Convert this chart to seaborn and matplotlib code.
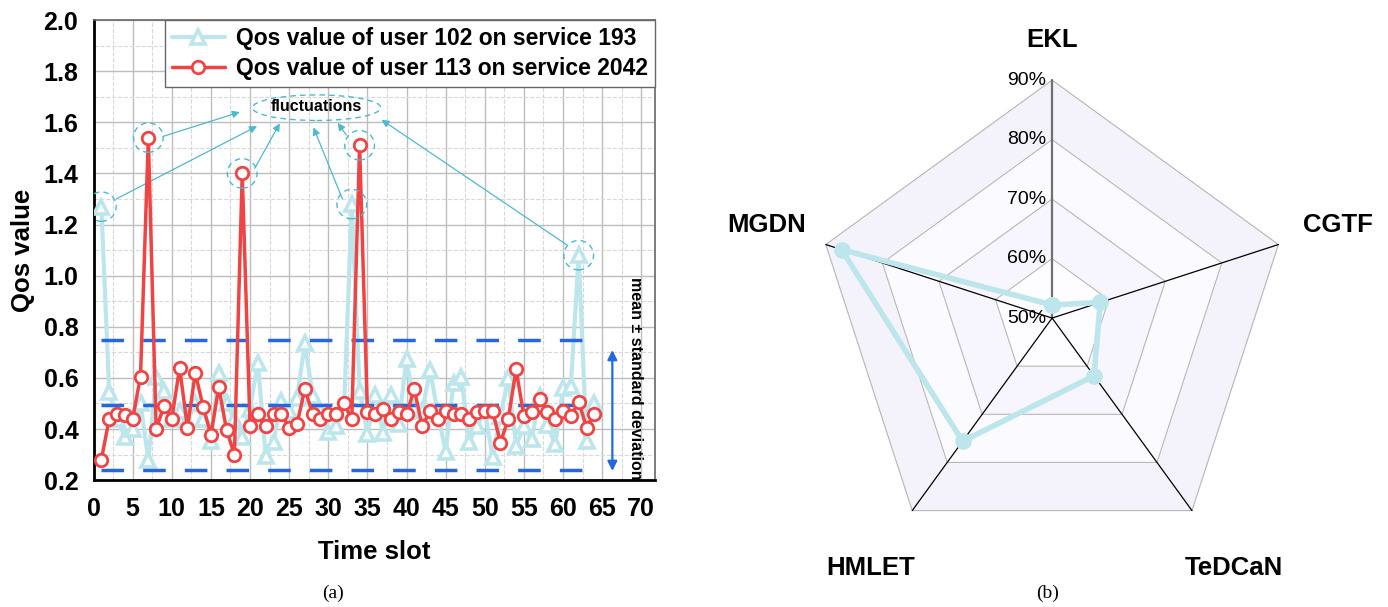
import numpy as np
import pandas as pd
import matplotlib
matplotlib.use("Agg")
import matplotlib.pyplot as plt
from matplotlib.patches import Ellipse
import seaborn as sns

# --- dados do grafico (a): QoS por time slot ---
time_slot = list(range(1, 65))
qos_u102 = [1.27, 0.545, 0.44, 0.37, 0.40, 0.50, 0.28, 0.605, 0.55, 0.44,
            0.47, 0.43, 0.50, 0.44, 0.355, 0.62, 0.50, 0.44, 0.37, 0.48,
            0.66, 0.295, 0.35, 0.51, 0.47, 0.52, 0.735, 0.53, 0.47, 0.39,
            0.41, 0.47, 1.28, 0.55, 0.38, 0.535, 0.385, 0.535, 0.42, 0.675,
            0.48, 0.47, 0.63, 0.46, 0.31, 0.58, 0.605, 0.35, 0.41, 0.47,
            0.29, 0.45, 0.60, 0.335, 0.41, 0.36, 0.53, 0.415, 0.34, 0.56,
            0.57, 1.08, 0.355, 0.50]
qos_u113 = [0.28, 0.44, 0.457, 0.454, 0.44, 0.605, 1.54, 0.40, 0.49, 0.44,
            0.64, 0.405, 0.62, 0.487, 0.378, 0.563, 0.396, 0.30, 1.40, 0.41,
            0.46, 0.41, 0.46, 0.46, 0.405, 0.42, 0.555, 0.46, 0.44, 0.457,
            0.457, 0.50, 0.44, 1.51, 0.466, 0.457, 0.48, 0.44, 0.466, 0.46,
            0.555, 0.41, 0.47, 0.44, 0.47, 0.457, 0.457, 0.44, 0.466, 0.47,
            0.47, 0.347, 0.44, 0.633, 0.45, 0.466, 0.517, 0.466, 0.44, 0.47,
            0.45, 0.507, 0.405, 0.46]
band_levels = [0.24, 0.495, 0.75]   # media - dp, media, media + dp
fluct_u102 = [1, 33, 62]            # slots com pico (triangulos)
fluct_u113 = [7, 19, 34]            # slots com pico (circulos)

# --- dados do grafico (b): radar ---
methods = ["EKL", "CGTF", "TeDCaN", "HMLET", "MGDN"]
scores = [52.2, 58.5, 62.0, 75.6, 87.2]
rings = [60, 70, 80, 90]

cyan = "#bce6ec"
red = "#f04343"
blue = "#2467e0"
note = "#4db9d0"

sns.set_theme(style="whitegrid")
plt.rcParams["font.family"] = ["Liberation Sans", "DejaVu Sans"]
plt.rcParams["text.color"] = "black"
plt.rcParams["axes.labelcolor"] = "black"
plt.rcParams["xtick.color"] = "black"
plt.rcParams["ytick.color"] = "black"

fig = plt.figure(figsize=(13.88, 6.07), dpi=100)

# ================= (a) =================
ax = fig.add_axes([0.0674, 0.209, 0.4045, 0.758])
df = pd.DataFrame({"slot": time_slot, "u102": qos_u102, "u113": qos_u113})

sns.lineplot(data=df, x="slot", y="u102", ax=ax, color=cyan, lw=3,
             marker="^", markersize=10.5, markerfacecolor="white",
             markeredgecolor=cyan, markeredgewidth=2.6, zorder=3,
             label="Qos value of user 102 on service 193")
sns.lineplot(data=df, x="slot", y="u113", ax=ax, color=red, lw=2.5,
             marker="o", markersize=9, markerfacecolor="white",
             markeredgecolor=red, markeredgewidth=2, zorder=4,
             label="Qos value of user 113 on service 2042")

ax.hlines(band_levels, xmin=0.9, xmax=64.2, colors=blue, lw=2.5,
          linestyles=[(0, (6.5, 5.5))], zorder=3.5)

ax.annotate("", xy=(66.3, 0.225), xytext=(66.3, 0.72),
            arrowprops=dict(arrowstyle="<|-|>", color=blue, lw=1.6,
                            mutation_scale=14))
ax.text(69.2, 0.6, "mean \u00b1 standard deviation", rotation=270,
        ha="center", va="center", fontsize=11.5, fontweight="bold")

# elipses tracejadas nos picos
for s in fluct_u102:
    ax.add_patch(Ellipse((s, qos_u102[s - 1]), 3.8, 0.115, fill=False,
                         ec=note, lw=1, ls=(0, (4, 3)), zorder=5))
for s in fluct_u113:
    ax.add_patch(Ellipse((s, qos_u113[s - 1]), 3.8, 0.115, fill=False,
                         ec=note, lw=1, ls=(0, (4, 3)), zorder=5))

ax.add_patch(Ellipse((28.5, 1.657), 16.4, 0.1, fill=False, ec=note, lw=1,
                     ls=(0, (4, 3)), zorder=5))
ax.text(28.5, 1.66, "fluctuations", ha="center", va="center",
        fontsize=11.5, fontweight="bold")

# setas ate "fluctuations"
setas = [((2.9, 1.30), (20.9, 1.585)),
         ((8.9, 1.545), (18.7, 1.64)),
         ((20.6, 1.42), (23.8, 1.596)),
         ((31.8, 1.30), (28.1, 1.58)),
         ((32.3, 1.55), (31.2, 1.598)),
         ((60.5, 1.12), (36.8, 1.61))]
for ini, fim in setas:
    ax.annotate("", xy=fim, xytext=ini,
                arrowprops=dict(arrowstyle="-|>", color=note, lw=0.9,
                                mutation_scale=11, shrinkA=0, shrinkB=0))

ax.set_xlim(0, 71.75)
ax.set_ylim(0.2, 2.0)
ax.set_xticks(np.arange(0, 71, 5))
ax.set_yticks(np.arange(0.2, 2.01, 0.2))
ax.set_yticklabels([f"{v:.1f}" for v in np.arange(0.2, 2.01, 0.2)])
ax.set_xticks(np.arange(2.5, 71, 5), minor=True)
ax.set_yticks(np.arange(0.3, 2.0, 0.2), minor=True)
ax.grid(which="major", color="#bdbdbd", lw=1)
ax.grid(which="minor", color="#d8d8d8", lw=0.8, ls="--")
ax.tick_params(axis="both", which="both", length=0, labelsize=18)
ax.tick_params(axis="y", pad=11)
ax.tick_params(axis="x", pad=12)
for lab in ax.get_xticklabels() + ax.get_yticklabels():
    lab.set_fontweight("bold")
ax.set_xlabel("Time slot", fontsize=18.5, fontweight="bold", labelpad=14)
ax.set_ylabel("Qos value", fontsize=18.5, fontweight="bold", labelpad=6)
for lado in ["left", "bottom"]:
    ax.spines[lado].set_color("black")
    ax.spines[lado].set_linewidth(2)
for lado in ["top", "right"]:
    ax.spines[lado].set_color("#666666")
    ax.spines[lado].set_linewidth(1.2)

leg = ax.legend(loc="upper right", bbox_to_anchor=(1, 1), borderaxespad=0,
                fontsize=16.5, handlelength=2.3, handletextpad=0.5,
                frameon=True, fancybox=False, framealpha=1,
                borderpad=0.3, labelspacing=0.3)
leg.get_frame().set_edgecolor("#666666")
leg.get_frame().set_linewidth(1)
for t in leg.get_texts():
    t.set_fontweight("bold")
    t.set_color("black")

# ================= (b) =================
ax2 = fig.add_axes([0.5865, 0.084, 0.343, 0.784], projection="polar")
ax2.set_theta_offset(np.pi / 2)
ax2.set_theta_direction(-1)
ax2.set_ylim(50, 90)
ax2.grid(False)
ax2.spines["polar"].set_visible(False)
ax2.set_xticks([])
ax2.set_yticks([])
ax2.patch.set_alpha(0)

angles = np.linspace(0, 2 * np.pi, len(methods), endpoint=False)
closed = np.append(angles, angles[0])

band_colors = ["#f4f2fb", "#fbfaff", "#f7f5fd", "#fdfcff"]
for r, c in zip(rings[::-1], band_colors):
    ax2.fill(closed, [r] * len(closed), color=c, zorder=0, clip_on=False)
for r in rings:
    ax2.plot(closed, [r] * len(closed), color="#b8b8b8", lw=0.8,
             zorder=1, clip_on=False)
for i, a in enumerate(angles):
    if i == 0:
        ax2.plot([a, a], [50, 90], color="#707070", lw=1.6, zorder=2,
                 clip_on=False)
    else:
        ax2.plot([a, a], [50, 90], color="black", lw=0.9, zorder=2,
                 clip_on=False)

for r in [50] + rings:
    ax2.annotate(f"{r}%", xy=(0, r), xytext=(-4, 0),
                 textcoords="offset points", ha="right", va="center",
                 fontsize=14, annotation_clip=False)

ax2.plot(closed, scores + [scores[0]], color=cyan, lw=4, marker="o",
         markersize=11, zorder=4, clip_on=False)

label_r = [96.8, 100.5, 102, 102, 100.5]
for a, m, r in zip(angles, methods, label_r):
    ax2.text(a, r, m, ha="center", va="center", fontsize=18.5,
             fontweight="bold")

fig.text(0.24, 0.023, "(a)", ha="center", va="center", fontsize=14,
         family="Liberation Serif")
fig.text(0.755, 0.023, "(b)", ha="center", va="center", fontsize=14,
         family="Liberation Serif")

fig.savefig("out.png", dpi=100)
